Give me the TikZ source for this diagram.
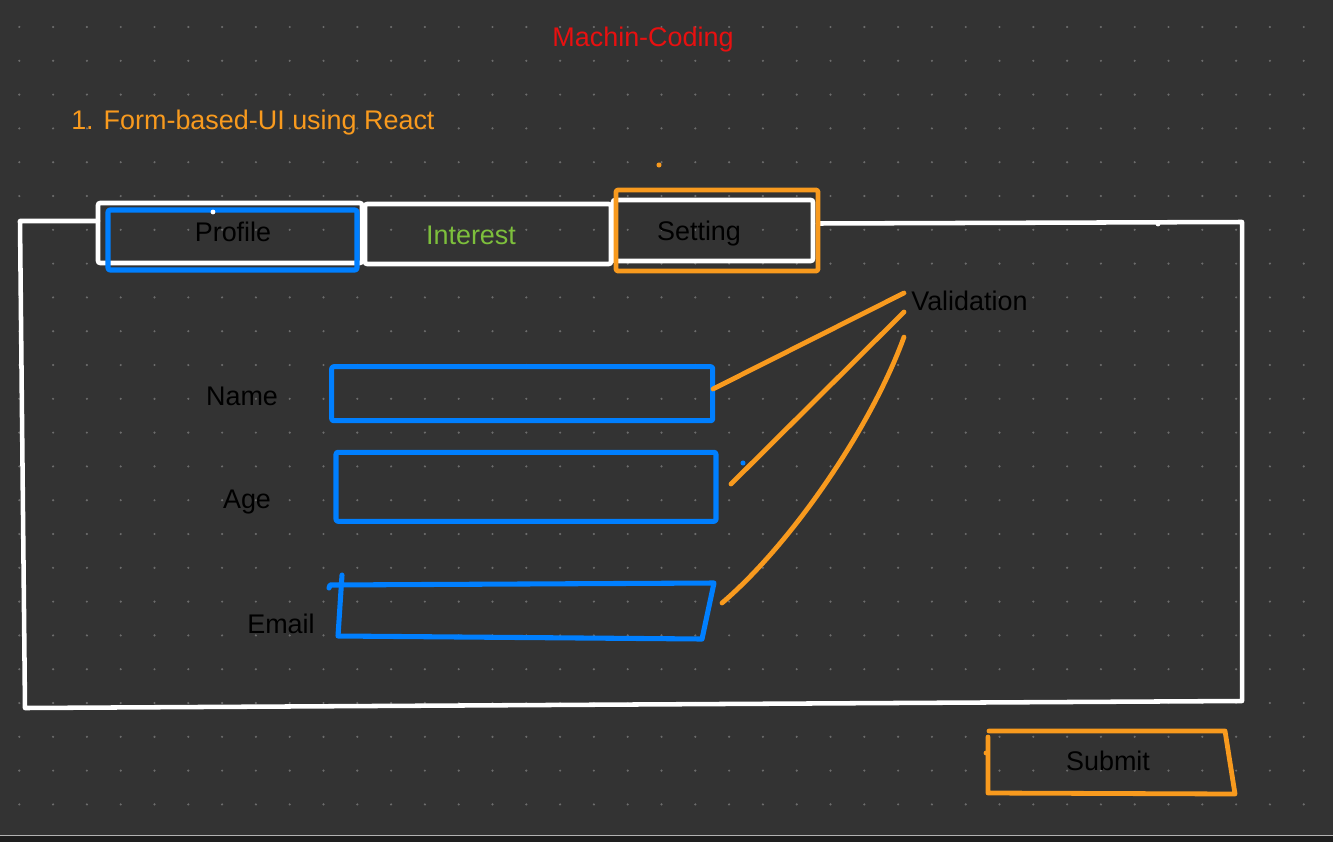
\documentclass[tikz,border=0pt]{standalone}
\usepackage{fontspec}
\setmainfont{Liberation Sans}
\definecolor{bg}{HTML}{333333}
\definecolor{dotc}{HTML}{6C6C6C}
\definecolor{uiblue}{HTML}{007FFF}
\definecolor{uiorange}{HTML}{F89A1E}
\definecolor{uigreen}{HTML}{7DBF3C}
\definecolor{uired}{HTML}{E81010}
\definecolor{strip}{HTML}{1E1E1E}
\begin{document}
\begin{tikzpicture}[x=0.75pt,y=-0.75pt,
  wline/.style={draw=white,line width=3.4pt,line join=round,line cap=round},
  bline/.style={draw=uiblue,line width=3.8pt,line join=round,line cap=round},
  oline/.style={draw=uiorange,line width=3.6pt,line join=round,line cap=round},
  boxw/.style={wline,rounded corners=1.5pt,inner sep=0pt},
  boxb/.style={bline,rounded corners=1.5pt,inner sep=0pt},
  boxo/.style={oline,rounded corners=1.5pt,inner sep=0pt},
  lbl/.style={font=\fontsize{20.2}{24}\selectfont,inner sep=0pt,anchor=base,text=black}]
% background and page
\fill[bg] (0,0) rectangle (1333,842);
\useasboundingbox (0,0) rectangle (1333,842);
\foreach \i in {0,...,39}{
  \foreach \j in {0,...,23}{
    \fill[dotc] ({19.3+33.8*\i},{27+33.8*\j}) circle (0.9pt);
  }
}
\fill[strip] (0,836) rectangle (1333,842);
\draw[draw=white!70!black,line width=0.8pt] (0,835.5) -- (1333,835.5);

% titles
\node[lbl,text=uired] (title) at (643,47) {Machin-Coding};
\node[lbl,text=uiorange,anchor=base west] (sub) at (71,129) {1. Form-based-UI using React};

% main frame
\coordinate (f1) at (98,221);
\coordinate (f2) at (20,221);
\coordinate (f3) at (25,708);
\coordinate (f4) at (1242,701);
\coordinate (f5) at (1242,222);
\coordinate (f6) at (818,223.5);
\draw[wline] (f1) -- (f2) -- (f3) -- (f4) -- (f5) -- (f6);
\fill[white] (1158,224) circle (1.8pt);

% tabs
\node[boxw,minimum width=198pt,minimum height=45pt] (tabP) at (230,233) {};
\node[boxw,minimum width=184.5pt,minimum height=45pt] (tabI) at (488,234) {};
\node[boxw,minimum width=150pt,minimum height=45.75pt] (tabS) at (713,230.5) {};
\node[boxb,minimum width=186.75pt,minimum height=45pt] (tabPB) at (232.5,240) {};
\node[boxo,minimum width=151.5pt,minimum height=60.75pt] (tabSO) at (717,230.5) {};
\fill[white] (213,212) circle (1.8pt);
\fill[uiorange] (659,165) circle (1.9pt);

\node[lbl] (lprofile) at (233,241) {Profile};
\node[lbl,text=uigreen] (linterest) at (471,244) {Interest};
\node[lbl] (lsetting) at (699,240) {Setting};

% form fields
\node[lbl] (lname) at (242,405.5) {Name};
\node[lbl] (lage) at (247,508) {Age};
\node[lbl] (lemail) at (281,633) {Email};

\node[boxb,minimum width=285.75pt,minimum height=40.5pt] (nameBox) at (522.2,393.7) {};
\node[boxb,minimum width=285pt,minimum height=51.75pt] (ageBox) at (526,486.8) {};
\coordinate (e0) at (329,588);
\coordinate (e1) at (330,585);
\coordinate (e2) at (714,583);
\coordinate (e3) at (702,639);
\coordinate (e4) at (338,636);
\coordinate (e5) at (342,575);
\draw[bline] (e0) -- (e1) -- (e2) -- (e3) -- (e4) -- (e5);
\fill[uiblue] (743,463) circle (1.9pt);

% validation
\node[lbl,anchor=base west] (lvalid) at (911,310.7) {Validation};
\coordinate (v1) at (904,293);
\coordinate (v2) at (904,312);
\coordinate (v3) at (904,337);
\coordinate (n1) at (713,389);
\coordinate (a1) at (731,484);
\coordinate (m1) at (722,603);
\draw[oline] (n1) -- (v1);
\draw[oline] (a1) -- (v2);
\draw[oline] (m1) .. controls (790,545) and (870,430) .. (v3);

% submit
\coordinate (s0) at (988,737);
\coordinate (s1) at (989,731);
\coordinate (s2) at (1225,731);
\coordinate (s3) at (1235,794);
\coordinate (s4) at (988,793);
\draw[oline] (s1) -- (s2) -- (s3) -- (s4) -- (s0);
\fill[uiorange] (986,753) circle (1.8pt);
\node[lbl] (lsubmit) at (1108,770.7) {Submit};
\end{tikzpicture}
\end{document}
